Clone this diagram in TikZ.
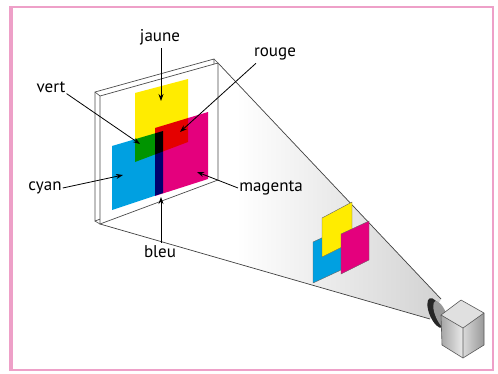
\documentclass[tikz,border=0pt]{standalone}
\usepackage{fontspec}
\setmainfont{PT Sans}
\usetikzlibrary{arrows.meta,calc}
\definecolor{framepink}{RGB}{238,160,200}
\definecolor{cmycyan}{RGB}{0,160,225}
\definecolor{cmymag}{RGB}{228,0,125}
\definecolor{cmyyel}{RGB}{255,236,0}
\pgfdeclarehorizontalshading{coneshade}{100bp}{color(0bp)=(white); color(45bp)=(white); color(100bp)=(black!32)}
\tikzset{
  lbl/.style={font=\fontsize{17}{19}\selectfont, inner sep=1pt},
  ptr/.style={draw=black, line width=0.8pt, -{Stealth[length=7pt,width=5pt]}},
  ray/.style={draw=black!75, line width=0.7pt},
  glass/.style={draw=black!70, line width=0.7pt, fill=white},
  mini/.style={draw=black!60, line width=0.4pt},
  cubeedge/.style={draw=black!65, line width=0.6pt, line join=round}
}
\begin{document}
\begin{tikzpicture}[x=1pt, y=-1pt]
\useasboundingbox (0,0) rectangle (498,373);

% frame
\draw[framepink, line width=1.6pt] (11,7) rectangle (493,370);
\draw[framepink, line width=4pt] (11,6.2) -- (11,370.8);

% key points of the screen
\coordinate (ftl) at (100,96);
\coordinate (ftr) at (218,63);
\coordinate (fbr) at (218,180);
\coordinate (fbl) at (100,224);
\coordinate (btl) at (95,92);
\coordinate (btr) at (214,59);
\coordinate (bbr) at (214,177);
\coordinate (bbl) at (95,221);

% lens of the projector
\coordinate (lensU) at (441,299);
\coordinate (lensL) at (430,319);

% light cone
\path[shading=coneshade] (ftr) -- (lensU) -- (lensL) -- (fbl) -- cycle;
\draw[ray] (ftr) -- (lensU);
\draw[ray] (fbl) -- (lensL);

% glass screen
\draw[glass] (btl) -- (btr) -- (bbr) -- (bbl) -- cycle;
\draw[glass] (ftl) -- (ftr) -- (fbr) -- (fbl) -- cycle;
\draw[black!70, line width=0.6pt] (btl) -- (ftl) (btr) -- (ftr) (bbl) -- (fbl);

% colour filters on the screen
\begin{scope}[blend group=multiply]
  \fill[cmyyel] (135,93) -- (188,79) -- (188,142) -- (135,162) -- cycle;
  \fill[cmycyan] (112,146) -- (163,131) -- (163,193) -- (112,210) -- cycle;
  \fill[cmymag] (155,128) -- (208,112) -- (208,179) -- (155,196) -- cycle;
\end{scope}

% filters in the beam
\fill[cmycyan, mini] (313,242) -- (341,229) -- (341,270) -- (313,283) -- cycle;
\fill[cmyyel, mini] (322,218) -- (352,202) -- (352,242) -- (322,257) -- cycle;
\fill[cmymag, mini] (341,234) -- (369,221) -- (369,260) -- (341,274) -- cycle;

% projector lens: dark rim and grey barrel
\fill[black!85, rotate around={23:(436,313)}] (436,313) ellipse (6.5pt and 16pt);
\fill[black!40, rotate around={23:(441,315)}] (441,315) ellipse (5.5pt and 15pt);

% projector body
\coordinate (ctl) at (441,315);
\coordinate (ctb) at (461,300);
\coordinate (ctr) at (484,313);
\coordinate (ctf) at (463,328);
\coordinate (cbl) at (442,345);
\coordinate (cbf) at (463,358);
\coordinate (cbr) at (484,345);
\fill[black!12] (ctl) -- (ctb) -- (ctr) -- (ctf) -- cycle;
\shade[left color=black!35, right color=black!8] (ctl) -- (ctf) -- (cbf) -- (cbl) -- cycle;
\shade[left color=black!15, right color=black!40] (ctf) -- (ctr) -- (cbr) -- (cbf) -- cycle;
\draw[cubeedge] (ctl) -- (ctb) -- (ctr) -- (cbr) -- (cbf) -- (cbl) -- cycle;
\draw[cubeedge] (ctl) -- (ctf) -- (ctr) (ctf) -- (cbf);

% labels
\node[lbl] (jaune) at (160,37) {jaune};
\node[lbl] (rouge) at (275,54) {rouge};
\node[lbl] (vert) at (51,87) {vert};
\node[lbl] (cyan) at (45,188) {cyan};
\node[lbl] (magenta) at (271,188) {magenta};
\node[lbl] (bleu) at (160,252) {bleu};

% pointer targets
\coordinate (tJ) at (161,101);
\coordinate (tR) at (180,132);
\coordinate (tV) at (140,144);
\coordinate (tC) at (123,175);
\coordinate (tM) at (197,172);
\coordinate (tB) at (161,197);

\draw[ptr] ($(jaune.south)+(1,2)$) -- (tJ);
\draw[ptr] ($(rouge.south west)+(3,2)$) -- (tR);
\draw[ptr] (vert.south east) -- (tV);
\draw[ptr] (cyan.east) -- (tC);
\draw[ptr] (magenta.west) -- (tM);
\draw[ptr] ($(bleu.north)+(1,-2)$) -- (tB);
\end{tikzpicture}
\end{document}
